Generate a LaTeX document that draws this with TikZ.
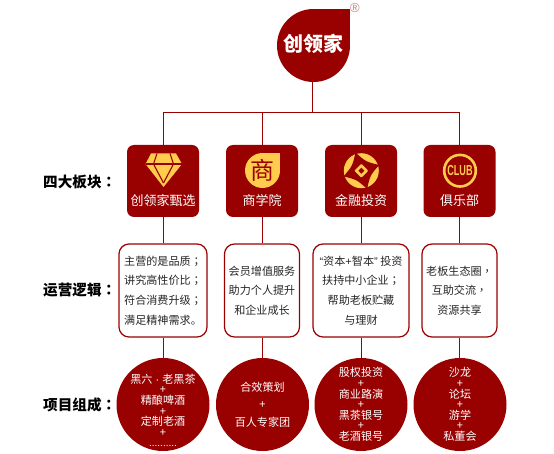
\documentclass[tikz,border=0pt]{standalone}
\usepackage{fontspec}
\setmainfont{Noto Sans CJK SC}
\newfontfamily\latinf{Liberation Sans}
\newfontfamily\tcf{Noto Sans CJK TC}
\definecolor{brand}{HTML}{990000}
\definecolor{gold}{HTML}{FFCC4D}
\definecolor{ink}{HTML}{262626}
\newcommand{\fsz}[2]{\fontsize{#1}{#2}\selectfont\lineskiplimit=-30pt\relax}
\tikzset{
  conn/.style={draw=brand,line width=1pt},
  sectionbox/.style={fill=brand,rounded corners=7pt,minimum width=72pt,minimum height=72pt,inner sep=0pt},
  boxlabel/.style={text=white,font=\fsz{13}{15},inner sep=0pt},
  logicbox/.style={draw=brand,line width=1.2pt,fill=white,rounded corners=10pt,minimum height=93pt,inner sep=0pt,text=ink,align=center,font=\fsz{11.1}{19.6}},
  projcircle/.style={circle,fill=brand,minimum size=93pt,inner sep=0pt},
  projtext/.style={inner sep=0pt,text=white,align=center,font=\fsz{11.1}{10.6}},
  rowlabel/.style={text=black,font=\fsz{14.6}{16}\bfseries,inner sep=0pt,anchor=west},
}
\begin{document}
\begin{tikzpicture}[x=1pt,y=-1pt]
\useasboundingbox (0,0) rectangle (554,454);
% nodes
\node[circle,minimum size=73pt,inner sep=0pt] (logo) at (313.5,45.5) {};
\coordinate (hub) at (312,112.5);
\coordinate (bus1) at (163,112.5);
\coordinate (bus2) at (262,112.5);
\coordinate (bus3) at (361,112.5);
\coordinate (bus4) at (459.5,112.5);
\node[sectionbox] (box1) at (163,181) {};
\node[sectionbox] (box2) at (262,181) {};
\node[sectionbox] (box3) at (361,181) {};
\node[sectionbox] (box4) at (459.5,181) {};
\node[logicbox,minimum width=88pt] (logic1) at (163,290.5) {主营的是品质{\tcf ；}\\讲究高性价比{\tcf ；}\\符合消费升级{\tcf ；}\\满足精神需求。};
\node[logicbox,minimum width=75pt] (logic2) at (262,290.5) {会员增值服务\\助力个人提升\\和企业成长};
\node[logicbox,minimum width=96pt] (logic3) at (361,290.5) {{\latinf “}资本{\latinf +}智本{\latinf ”} 投资\\扶持中小企业{\tcf ；}\\帮助老板贮藏\\与理财};
\node[logicbox,minimum width=75pt] (logic4) at (459.5,290.5) {老板生态圈{\tcf ，}\\互助交流{\tcf ，}\\资源共享};
\node[projcircle] (proj1) at (163,404.5) {};
\node[projcircle] (proj2) at (262.5,404.5) {};
\node[projcircle] (proj3) at (361,404.5) {};
\node[projcircle] (proj4) at (460,404.5) {};
\node[projtext] (ptext1) at (163,410.5) {黑六{\latinf\ ·\ }老黑茶\\+\\精酿啤酒\\+\\定制老酒\\+\\{\latinf\fontsize{10}{10}\selectfont ..........}};
\node[projtext,font=\fsz{11.1}{17.6}] (ptext2) at (262.5,404.5) {合效策划\\+\\百人专家团};
\node[projtext] (ptext3) at (361,404.5) {股权投资\\+\\商业路演\\+\\黑茶银号\\+\\老酒银号};
\node[projtext] (ptext4) at (460,404.5) {沙龙\\+\\论坛\\+\\游学\\+\\私董会};
% connectors
\draw[conn] (logo.south -| hub) -- (hub);
\draw[conn] (bus1) -- (bus4);
\foreach \i in {1,2,3,4}{
  \draw[conn] (bus\i) -- (box\i.north);
  \draw[conn] (box\i.south) -- (logic\i.north);
  \draw[conn] (logic\i.south) -- (logic\i.south |- proj\i.north);
}
% logo
\fill[brand] (logo.center) circle[radius=36.5];
\fill[brand] (313.5,9) rectangle (350,45.5);
\node[text=white,font=\fsz{20}{22}\bfseries,inner sep=0pt] (logotext) at (313,44) {创领家};
\node[text=brand!50,font={\latinf\fsz{13}{13}},inner sep=0pt] (reg) at (355,8) {®};
% diamond icon
\fill[gold] (151,153.5) -- (176,153.5) -- (182,164) -- (163.5,187) -- (145.5,164) -- cycle;
\draw[brand,line width=1.1pt] (145.5,164) -- (181.5,164);
\draw[brand,line width=1.1pt] (157,153.5) -- (153.5,164) -- (163.5,183);
\draw[brand,line width=1.1pt] (170,153.5) -- (173.5,164) -- (163.5,183);
% shop icon
\fill[gold] (262.5,170.5) circle[radius=17.5];
\fill[gold] (262.5,153) rectangle (280,170.5);
\node[text=brand,font=\fsz{24}{26},inner sep=0pt] (shop) at (262.5,170.5) {商};
% coin icon
\fill[gold] (361.3,170.7) circle[radius=17.5];
\fill[brand] (355.5,152.5) .. controls (365.8,161.75) .. (379.1,165)
  .. controls (370.15,175.4) .. (367.1,188.9)
  .. controls (356.8,179.7) .. (343.5,176.4)
  .. controls (352.45,166) .. cycle;
\fill[gold,rounded corners=.8pt] (361.3,163.7) -- (368.3,170.7) -- (361.3,177.7) -- (354.3,170.7) -- cycle;
\fill[brand] (361.3,167.7) -- (364.3,170.7) -- (361.3,173.7) -- (358.3,170.7) -- cycle;
% club icon
\draw[gold,line width=2.6pt] (460,170.7) circle[radius=15.8];
\node[text=gold,font={\latinf\fsz{14.5}{15}\bfseries},xscale=.63,inner sep=0pt] (club) at (460,171) {CLUB};
% box labels
\node[boxlabel] (lab1) at (163,200.5) {创领家甄选};
\node[boxlabel] (lab2) at (262,200.5) {商学院};
\node[boxlabel] (lab3) at (361,200.5) {金融投资};
\node[boxlabel] (lab4) at (459.5,200.5) {俱乐部};
% row labels
\node[rowlabel] (row1) at (43,182) {四大板块{\tcf ：}};
\node[rowlabel] (row2) at (43,290) {运营逻辑{\tcf ：}};
\node[rowlabel] (row3) at (43,405) {项目组成{\tcf ：}};
\end{tikzpicture}
\end{document}
